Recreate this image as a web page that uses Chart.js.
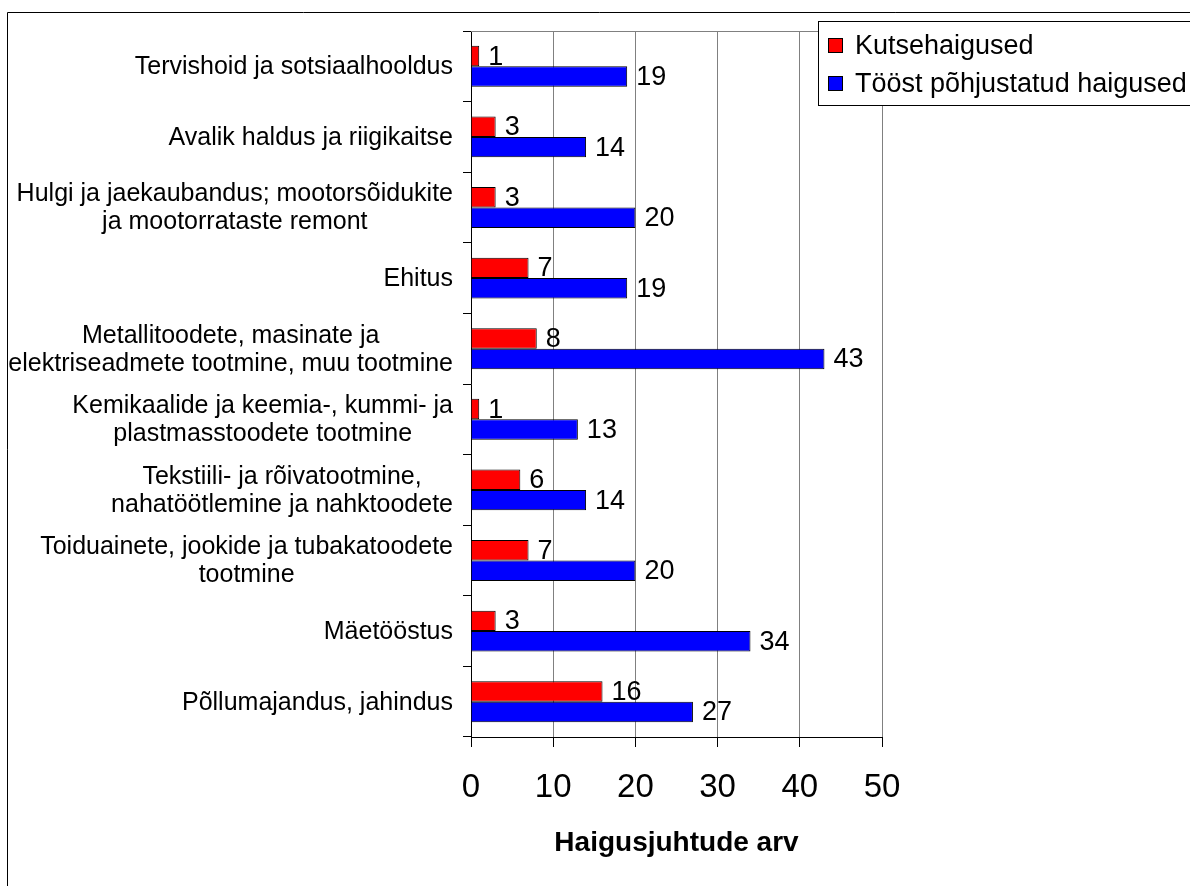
<!DOCTYPE html>
<html>
<head>
<meta charset="utf-8">
<script src="https://cdn.jsdelivr.net/npm/chart.js@4/dist/chart.umd.min.js"></script>
<style>
  body { margin: 0; background: #fff; }
  #wrap { width: 1190px; height: 886px; position: relative; }
</style>
</head>
<body>
<div id="wrap"><canvas id="chart" width="1190" height="886"></canvas></div>
<script>
const categories = [
  ['Tervishoid ja sotsiaalhooldus'],
  ['Avalik haldus ja riigikaitse'],
  ['Hulgi ja jaekaubandus; mootorsõidukite', 'ja mootorrataste remont'],
  ['Ehitus'],
  ['Metallitoodete, masinate ja', 'elektriseadmete tootmine, muu tootmine'],
  ['Kemikaalide ja keemia-, kummi- ja', 'plastmasstoodete tootmine'],
  ['Tekstiili- ja rõivatootmine,', 'nahatöötlemine ja nahktoodete'],
  ['Toiduainete, jookide ja tubakatoodete', 'tootmine'],
  ['Mäetööstus'],
  ['Põllumajandus, jahindus']
];
const seriesNames = ['Kutsehaigused', 'Tööst põhjustatud haigused'];
const kutsehaigused = [1, 3, 3, 7, 8, 1, 6, 7, 3, 16];
const toostHaigused = [19, 14, 20, 19, 43, 13, 14, 20, 34, 27];
const xTicks = [0, 10, 20, 30, 40, 50];
const xTitle = 'Haigusjuhtude arv';

const FONT = "'Liberation Sans', Arial, sans-serif";
Chart.defaults.font.family = FONT;
Chart.defaults.color = '#000';

// outer frame, top grey border, category labels, value labels, legend
const extras = {
  id: 'extras',
  beforeDraw(chart) {
    const ctx = chart.ctx;
    ctx.save();
    ctx.fillStyle = '#fff';
    ctx.fillRect(0, 0, chart.width, chart.height);
    ctx.strokeStyle = '#000';
    ctx.lineWidth = 1;
    ctx.beginPath();
    ctx.moveTo(7.5, chart.height + 5);
    ctx.lineTo(7.5, 12.5);
    ctx.lineTo(chart.width + 5, 12.5);
    ctx.stroke();
    ctx.restore();
  },
  afterDatasetsDraw(chart) {
    const ctx = chart.ctx;
    const area = chart.chartArea;
    ctx.save();
    // top border of plot
    ctx.strokeStyle = '#808080';
    ctx.beginPath();
    ctx.moveTo(area.left, Math.round(area.top) + 0.5);
    ctx.lineTo(area.right, Math.round(area.top) + 0.5);
    ctx.stroke();

    // value labels
    ctx.fillStyle = '#000';
    ctx.font = '27px ' + FONT;
    ctx.textAlign = 'left';
    ctx.textBaseline = 'middle';
    chart.data.datasets.forEach((ds, i) => {
      chart.getDatasetMeta(i).data.forEach((bar, j) => {
        ctx.fillText(String(ds.data[j]), bar.x + 9, bar.y + 1);
      });
    });

    // category labels: block right-aligned, lines centred
    const yScale = chart.scales.y;
    ctx.font = '25px ' + FONT;
    ctx.textAlign = 'center';
    const rightEdge = area.left - 18;
    categories.forEach((lines, i) => {
      const cy = yScale.getPixelForValue(i);
      const w = Math.max(...lines.map(l => ctx.measureText(l).width));
      const cx = rightEdge - w / 2;
      lines.forEach((l, k) => {
        ctx.fillText(l, cx, cy + (k - (lines.length - 1) / 2) * 28 + 1);
      });
    });
    ctx.restore();
  },
  afterDraw(chart) {
    const ctx = chart.ctx;
    ctx.save();
    const bx = 818.5, by = 21.5, bw = 372, bh = 84;
    ctx.fillStyle = '#fff';
    ctx.fillRect(bx, by, bw, bh);
    ctx.strokeStyle = '#000';
    ctx.lineWidth = 1;
    ctx.strokeRect(bx, by, bw, bh);
    ctx.font = '27px ' + FONT;
    ctx.textAlign = 'left';
    ctx.textBaseline = 'middle';
    chart.data.datasets.forEach((ds, i) => {
      const y = 46 + i * 38;
      ctx.fillStyle = ds.backgroundColor;
      ctx.fillRect(828.5, y - 7.5, 14, 14);
      ctx.strokeRect(828.5, y - 7.5, 14, 14);
      ctx.fillStyle = '#000';
      ctx.fillText(ds.label, 855, y + 1);
    });
    ctx.restore();
  }
};

new Chart(document.getElementById('chart'), {
  type: 'bar',
  data: {
    labels: categories,
    datasets: [
      { label: seriesNames[0], data: kutsehaigused, backgroundColor: '#ff0000', borderColor: '#000', borderWidth: 1 },
      { label: seriesNames[1], data: toostHaigused, backgroundColor: '#0000ff', borderColor: '#000', borderWidth: 1 }
    ]
  },
  options: {
    indexAxis: 'y',
    responsive: false,
    animation: false,
    categoryPercentage: 0.58,
    barPercentage: 1,
    layout: { padding: { top: 31, right: 308, left: 0, bottom: 0 } },
    plugins: {
      legend: { display: false },
      tooltip: { enabled: false }
    },
    scales: {
      x: {
        min: xTicks[0],
        max: xTicks[xTicks.length - 1],
        afterBuildTicks: scale => { scale.ticks = xTicks.map(v => ({ value: v })); },
        afterFit: scale => { scale.height = 149; },
        grid: { color: '#808080', tickColor: '#000', tickLength: 10 },
        border: { color: '#000', width: 1 },
        ticks: { font: { size: 33 }, padding: 21, color: '#000' },
        title: {
          display: true,
          text: xTitle,
          font: { size: 28, weight: 'bold' },
          padding: { top: 0, bottom: 26 },
          color: '#000'
        }
      },
      y: {
        afterFit: scale => { scale.width = 471; },
        grid: { drawOnChartArea: false, color: '#000', tickLength: 8, offset: true },
        border: { color: '#000', width: 1 },
        ticks: { display: false }
      }
    }
  },
  plugins: [extras]
});
</script>
</body>
</html>
